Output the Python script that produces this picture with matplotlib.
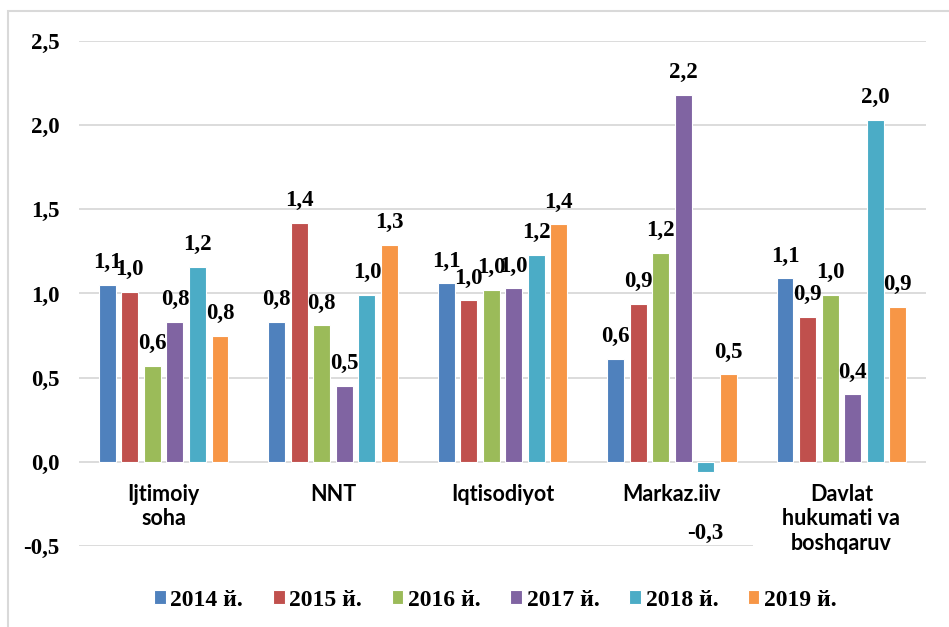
import numpy as np
import matplotlib.pyplot as plt
from matplotlib.patches import Rectangle

# data
categories = ["Ijtimoiy\nsoha", "NNT", "Iqtisodiyot", "Markaz.iiv", "Davlat\nhukumati va\nboshqaruv"]
years = ["2014 й.", "2015 й.", "2016 й.", "2017 й.", "2018 й.", "2019 й."]
values = {
    "2014 й.": [1.05, 0.83, 1.06, 0.61, 1.09],
    "2015 й.": [1.01, 1.42, 0.96, 0.94, 0.86],
    "2016 й.": [0.57, 0.81, 1.02, 1.24, 0.99],
    "2017 й.": [0.83, 0.45, 1.03, 2.18, 0.40],
    "2018 й.": [1.16, 0.99, 1.23, -0.06, 2.03],
    "2019 й.": [0.75, 1.29, 1.41, 0.52, 0.92],
}
# data labels as printed on the chart
labels = {
    "2014 й.": ["1,1", "0,8", "1,1", "0,6", "1,1"],
    "2015 й.": ["1,0", "1,4", "1,0", "0,9", "0,9"],
    "2016 й.": ["0,6", "0,8", "1,0", "1,2", "1,0"],
    "2017 й.": ["0,8", "0,5", "1,0", "2,2", "0,4"],
    "2018 й.": ["1,2", "1,0", "1,2", "-0,3", "2,0"],
    "2019 й.": ["0,8", "1,3", "1,4", "0,5", "0,9"],
}
yticks = [-0.5, 0.0, 0.5, 1.0, 1.5, 2.0, 2.5]
colors = ["#4F81BD", "#C0504D", "#9BBB59", "#8064A2", "#4BACC6", "#F79646"]

serif = "Liberation Serif"
sans = "Lato"

fig = plt.figure(figsize=(9.49, 6.27), dpi=100)
ax = fig.add_axes([0.0832, 0.1292, 0.8926, 0.8054])

x = np.arange(len(categories))
step = 0.133
width = 0.10

# gridlines (the -0.5 line stops short of the last label)
for t in yticks:
    xmax = 3.48 if t == -0.5 else 4.5
    ax.hlines(t, -0.5, xmax, color="#d9d9d9", lw=1.3, zorder=0)

for i, yr in enumerate(years):
    pos = x + (i - 2.5) * step
    bars = ax.bar(pos, values[yr], width=width, color=colors[i],
                  edgecolor="white", linewidth=0.8, label=yr, zorder=2)
    for b, v, txt in zip(bars, values[yr], labels[yr]):
        off = 16 if v >= 0 else -44
        ax.annotate(txt, (b.get_x() + b.get_width() / 2, v),
                    xytext=(0, off), textcoords="offset points",
                    ha="center", va="center", fontsize=16.5,
                    fontweight="bold", family=serif, zorder=3)

# category names sit just under the zero line
for xi, name in zip(x, categories):
    ax.annotate(name, (xi, 0), xytext=(0, -16), textcoords="offset points",
                ha="center", va="top", ma="center", fontsize=15.5,
                fontweight="bold", family=sans, linespacing=1.2)

ax.set_xlim(-0.5, 4.5)
ax.set_ylim(-0.5, 2.5)
ax.set_yticks(yticks)
ax.set_yticklabels([f"{t:.1f}".replace(".", ",") for t in yticks],
                   fontsize=16.5, fontweight="bold", family=serif)
ax.set_xticks([])
ax.tick_params(axis="y", length=0, pad=14)
for s in ax.spines.values():
    s.set_visible(False)

leg = fig.legend(loc="center", bbox_to_anchor=(0.522, 0.043), ncol=6,
                 frameon=False, handlelength=0.5, handleheight=0.5,
                 handletextpad=0.2, columnspacing=1.25,
                 prop={"family": serif, "weight": "bold", "size": 17})

# outer chart border (only top and left edges fall inside the image)
fig.patches.append(Rectangle((8 / 949, -0.05), 1.2, 1 - 11 / 627 + 0.05,
                             transform=fig.transFigure, fill=False,
                             edgecolor="#d9d9d9", lw=1.5))

fig.savefig("out.png", dpi=100)
